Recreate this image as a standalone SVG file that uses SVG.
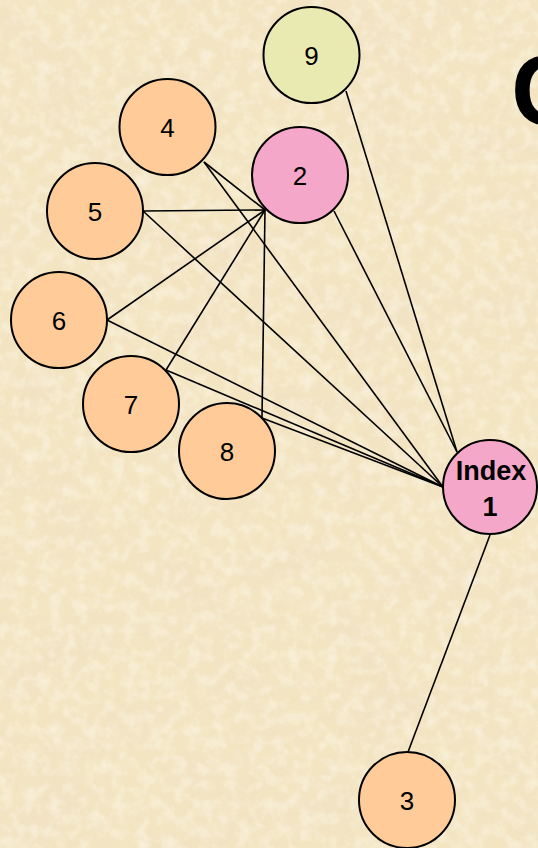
<svg xmlns="http://www.w3.org/2000/svg" width="538" height="848" viewBox="0 0 538 848">
<defs>
<filter id="paper" x="0" y="0" width="100%" height="100%">
<feTurbulence type="fractalNoise" baseFrequency="0.012 0.018" numOctaves="4" seed="7" result="n"/>
<feColorMatrix in="n" type="matrix" values="0 0 0 0 0.87  0 0 0 0 0.74  0 0 0 0 0.55  0 0 0 -2.2 1.25" result="c"/>
<feComposite in="c" in2="SourceGraphic" operator="in"/>
</filter>
<filter id="paper2" x="0" y="0" width="100%" height="100%">
<feTurbulence type="fractalNoise" baseFrequency="0.08" numOctaves="3" seed="3" result="n"/>
<feColorMatrix in="n" type="matrix" values="0 0 0 0 1  0 0 0 0 0.97  0 0 0 0 0.88  0 0 0 -2 1.2" result="c"/>
<feComposite in="c" in2="SourceGraphic" operator="in"/>
</filter>
<style>
.edge{stroke:#000;stroke-width:1.6;fill:none}
.node circle{stroke:#000;stroke-width:2}
.o{fill:#FFCC99}
.p{fill:#F4A7C8}
.y{fill:#E9E9B2}
.lbl{font-family:"Liberation Sans",Arial,sans-serif;font-size:26px;fill:#000;text-anchor:middle}
.b{font-weight:bold;font-size:27px}
</style>
</defs>
<rect width="538" height="848" fill="#F3E5C2"/>
<rect width="538" height="848" fill="#F3E5C2" filter="url(#paper)" opacity="0.55"/>
<rect width="538" height="848" fill="#F3E5C2" filter="url(#paper2)" opacity="0.5"/>
<text x="511" y="125" font-family="'Liberation Sans',Arial,sans-serif" font-size="100" font-weight="bold" fill="#000">C</text>
<g id="connectors">
<line class="edge" x1="346" y1="91" x2="457" y2="452"/>
<line class="edge" x1="334" y1="211" x2="457" y2="452"/>
<line class="edge" x1="204" y1="162" x2="265" y2="210"/>
<line class="edge" x1="204" y1="162" x2="443" y2="487"/>
<line class="edge" x1="143" y1="211" x2="265" y2="210"/>
<line class="edge" x1="143" y1="211" x2="443" y2="487"/>
<line class="edge" x1="107" y1="320" x2="265" y2="210"/>
<line class="edge" x1="107" y1="320" x2="443" y2="487"/>
<line class="edge" x1="166" y1="370" x2="265" y2="210"/>
<line class="edge" x1="166" y1="370" x2="443" y2="487"/>
<line class="edge" x1="262" y1="418" x2="265" y2="210"/>
<line class="edge" x1="262" y1="418" x2="443" y2="487"/>
<line class="edge" x1="490" y1="535" x2="408" y2="752"/>
</g>
<g id="node9" class="node"><circle class="y" cx="311.5" cy="55" r="48"/><text class="lbl" x="311.5" y="64.5">9</text></g>
<g id="node4" class="node"><circle class="o" cx="167.5" cy="127" r="48"/><text class="lbl" x="167.5" y="136.5">4</text></g>
<g id="node2" class="node"><circle class="p" cx="300" cy="175" r="48"/><text class="lbl" x="300" y="184.5">2</text></g>
<g id="node5" class="node"><circle class="o" cx="95" cy="211" r="48"/><text class="lbl" x="95" y="220.5">5</text></g>
<g id="node6" class="node"><circle class="o" cx="59" cy="320" r="48"/><text class="lbl" x="59" y="329.5">6</text></g>
<g id="node7" class="node"><circle class="o" cx="131" cy="404" r="48"/><text class="lbl" x="131" y="413.5">7</text></g>
<g id="node8" class="node"><circle class="o" cx="227" cy="451" r="48"/><text class="lbl" x="227" y="460.5">8</text></g>
<g id="node1" class="node"><circle class="p" cx="490" cy="487" r="47"/><text class="lbl b" x="491" y="480">Index</text><text class="lbl b" x="490" y="516">1</text></g>
<g id="node3" class="node"><circle class="o" cx="407" cy="800" r="48"/><text class="lbl" x="407" y="809.5">3</text></g>
</svg>
